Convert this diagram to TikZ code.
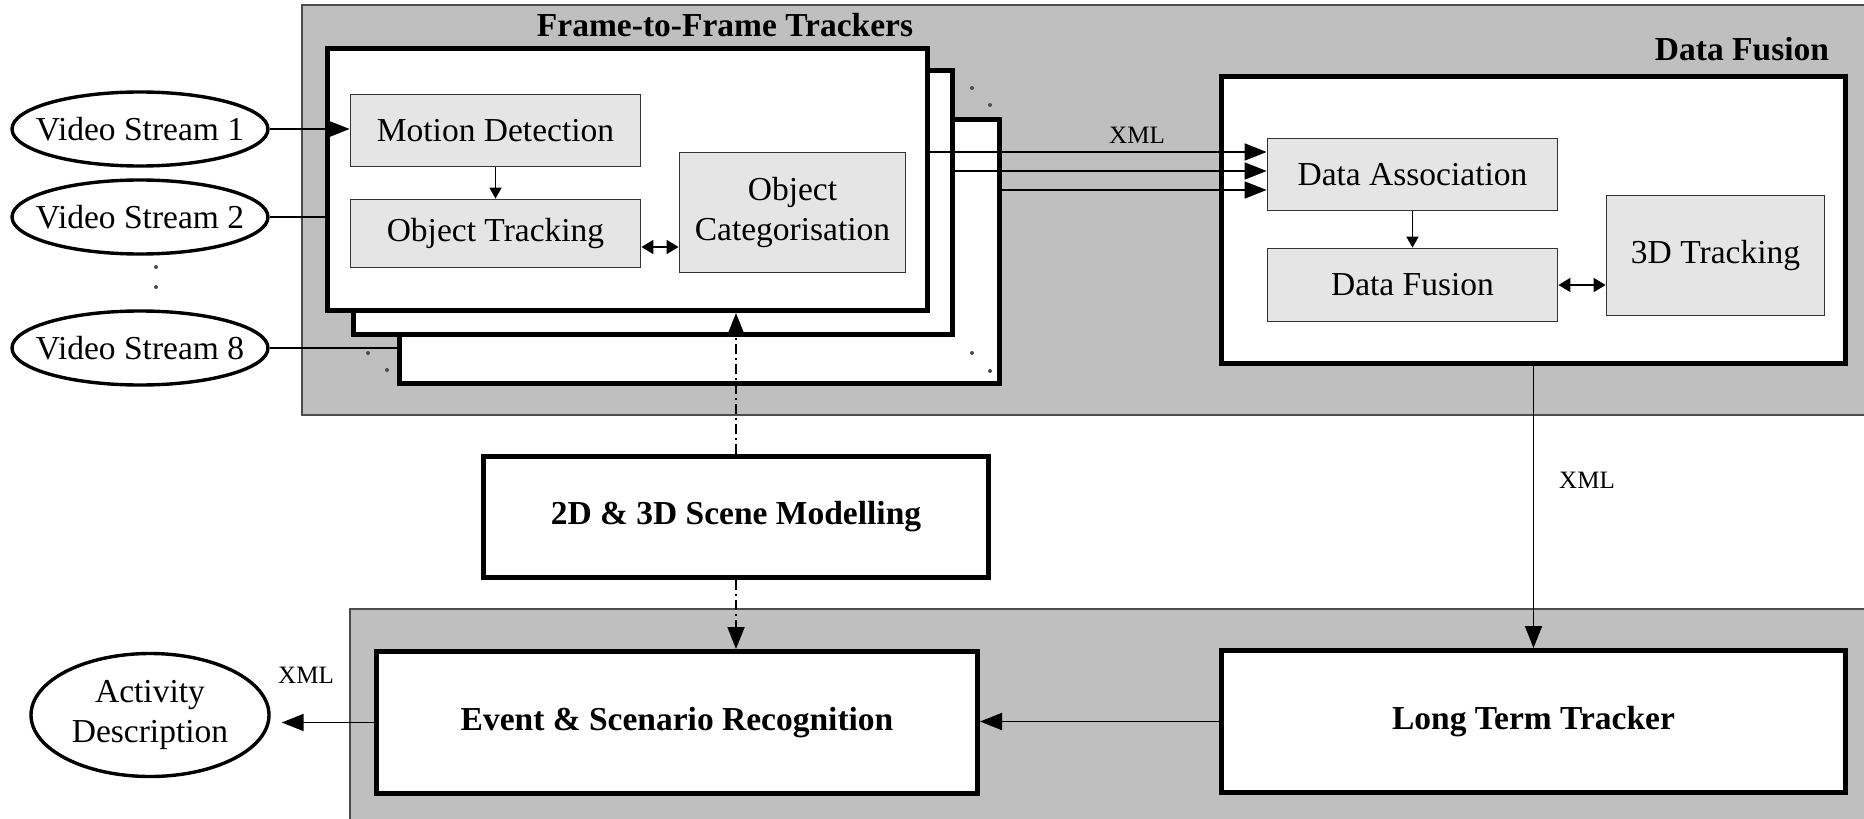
\documentclass[tikz,border=0pt]{standalone}
\usepackage{fontspec}
\setmainfont{Liberation Serif}
\usetikzlibrary{arrows.meta,shapes.geometric}
\definecolor{panelgray}{gray}{0.75}
\definecolor{boxgray}{gray}{0.9}
\begin{document}
\begin{tikzpicture}[x=0.5pt,y=-0.5pt,
  every node/.style={font=\fontsize{16.75}{20}\selectfont},
  panel/.style={fill=panelgray,draw=black!70,line width=1pt},
  bigbox/.style={draw=black,fill=white,line width=2.5pt,inner sep=0pt},
  inbox/.style={draw=black!80,fill=boxgray,line width=0.9pt,align=center,inner sep=0pt},
  stream/.style={ellipse,draw=black,fill=white,line width=1.7pt,inner xsep=-10pt,inner ysep=0pt,minimum width=128pt,minimum height=37pt},
  title/.style={font=\fontsize{16.75}{20}\selectfont\bfseries},
  xmltext/.style={font=\fontsize{12.5}{15}\selectfont},
  link/.style={line width=0.9pt},
  arr/.style={link,-{Triangle[length=11pt,width=8.5pt]}},
  sarr/.style={link,-{Triangle[length=5.5pt,width=6pt]}},
  darr/.style={link,{Triangle[length=6pt,width=7pt]}-{Triangle[length=6pt,width=7pt]}},
  dashdot/.style={dash pattern=on 5pt off 2pt on 1pt off 2pt}]
\clip (0,0) rectangle (1864,819);
\fill[white] (0,0) rectangle (1864,819);
\draw[panel] (302,5) rectangle (1900,415);
\draw[panel] (350,609) rectangle (1900,840);
\node (third) at (699.5,251.5) [bigbox,minimum width=300pt,minimum height=132pt] {};
\node (second) at (653,202.5) [bigbox,minimum width=299.5pt,minimum height=132pt] {};
\node (front) at (627.5,179.5) [bigbox,minimum width=300pt,minimum height=131pt] {};
\node (trtitle) at (725,25) [title] {Frame-to-Frame Trackers};
\node (motion) at (495.5,130.5) [inbox,minimum width=145pt,minimum height=36pt] {Motion Detection};
\node (objtrack) at (495.5,233.5) [inbox,minimum width=145pt,minimum height=34pt] {Object Tracking};
\node (objcat) at (792.5,212.5) [inbox,minimum width=113pt,minimum height=60pt] {Object\\Categorisation};
\node (vs1) at (140,129) [stream] {Video Stream 1};
\node (vs2) at (140,217) [stream] {Video Stream 2};
\node (vs8) at (140,348) [stream] {Video Stream 8};
\node (activity) at (150,715) [stream,align=center,minimum width=119pt,minimum height=61.5pt] {Activity\\Description};
\node (dfbox) at (1533.5,220) [bigbox,minimum width=312pt,minimum height=143.5pt] {};
\node (dftitle) at (1742,49) [title] {Data Fusion};
\node (assoc) at (1412.5,174.5) [inbox,minimum width=145pt,minimum height=36pt] {Data Association};
\node (fusion) at (1412.5,285) [inbox,minimum width=145pt,minimum height=36.5pt] {Data Fusion};
\node (trk3d) at (1715.5,255.5) [inbox,minimum width=109pt,minimum height=60pt] {3D Tracking};
\node (scene) at (736,517) [bigbox,title,minimum width=252.5pt,minimum height=60.5pt] {2D \& 3D Scene Modelling};
\node (esr) at (677,722.5) [bigbox,title,minimum width=300.5pt,minimum height=71pt] {Event \& Scenario Recognition};
\node (ltt) at (1533.5,721.5) [bigbox,title,minimum width=312pt,minimum height=71pt] {Long Term Tracker};
\node (xml1) at (1137,135) [xmltext] {XML};
\node (xml2) at (1587,480) [xmltext] {XML};
\node (xml3) at (306,675) [xmltext] {XML};
\coordinate (x1) at ([yshift=-53pt]front.north east);
\coordinate (x2) at ([yshift=-51.5pt]second.north east);
\coordinate (x3) at ([yshift=-36.5pt]third.north east);
\coordinate (ot1) at ([yshift=-6.75pt]objtrack.east);
\draw[arr] (vs1) -- (vs1 -| motion.west);
\draw[link] (vs2) -- (vs2 -| front.west);
\draw[link] (vs8) -- (vs8 -| third.west);
\draw[sarr] (motion) -- (objtrack);
\draw[darr] (ot1) -- (ot1 -| objcat.west);
\draw[arr] (x1) -- (x1 -| assoc.west);
\draw[arr] (x2) -- (x2 -| assoc.west);
\draw[arr] (x3) -- (x3 -| assoc.west);
\draw[sarr] (assoc) -- (fusion);
\draw[darr] (fusion) -- (fusion -| trk3d.west);
\draw[arr] (dfbox.south) -- (ltt.north);
\draw[arr] (ltt) -- (ltt -| esr.east);
\draw[arr,shorten >=5.5pt] (esr) -- (esr -| activity.east);
\draw[arr,dashdot] (scene) -- (scene |- front.south);
\draw[arr,dashdot] (scene) -- (scene |- esr.north);
\foreach \p in {(972,88),(990,105),(368,353),(387,370),(972,353),(990,371),(156,267),(156,287)}
  \fill[black!70] \p circle (1pt);
\end{tikzpicture}
\end{document}
